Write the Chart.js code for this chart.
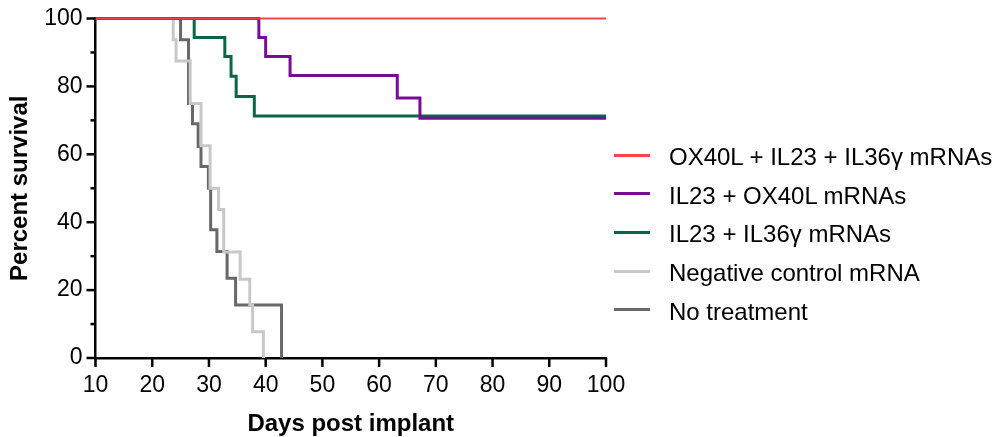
<!DOCTYPE html>
<html>
<head>
<meta charset="utf-8">
<script src="https://cdn.jsdelivr.net/npm/chart.js@4.4.0/dist/chart.umd.min.js"></script>
<style>
  html, body { margin: 0; padding: 0; background: #fff; }
  #wrap { position: relative; width: 996px; height: 437px; }
  #legend {
    position: absolute; left: 614px; top: 138px;
    font-family: "Liberation Sans", Arial, sans-serif; font-size: 24px; color: #000;
  }
  .row { display: flex; align-items: center; height: 38.6px; white-space: nowrap; }
  .swatch { width: 36px; height: 3px; margin-right: 19px; position: relative; top: -2px; }
</style>
</head>
<body>
<div id="wrap">
  <canvas id="km" width="996" height="437"></canvas>
  <div id="legend"></div>
</div>
<script>
// survival curves (day of step, % surviving after it)
const seriesNames = [
  'OX40L + IL23 + IL36\u03b3 mRNAs',
  'IL23 + OX40L mRNAs',
  'IL23 + IL36\u03b3 mRNAs',
  'Negative control mRNA',
  'No treatment'
];
const seriesColors = ['#f84646', '#760c96', '#0c6646', '#c8c8c8', '#686868'];

const tripleDays = [10, 100];
const tripleSurvival = [100, 100];

const il23Ox40lDays = [10, 38.8, 40.0, 44.3, 63.2, 67.2, 100];
const il23Ox40lSurvival = [100, 94.4, 88.8, 83.2, 76.6, 70.6, 70.6];

const il23Il36Days = [10, 27.4, 32.8, 33.9, 34.8, 38.0, 100];
const il23Il36Survival = [100, 94.4, 88.8, 83.0, 77.0, 71.3, 71.3];

const negCtrlDays = [10, 23.7, 24.2, 26.7, 28.6, 30.2, 31.7, 32.6, 35.5, 37.2, 37.7, 39.6];
const negCtrlSurvival = [100, 93.75, 87.5, 75, 62.5, 50, 43.75, 31.25, 23.2, 15.6, 7.7, 0];

const noTxDays = [10, 25.0, 26.4, 27.1, 28.1, 28.6, 29.9, 30.3, 31.4, 33.2, 34.7, 42.8];
const noTxSurvival = [100, 93.75, 75, 69, 62.3, 56.4, 50, 37.8, 31.4, 23.5, 15.6, 0];

const xTicks = [10, 20, 30, 40, 50, 60, 70, 80, 90, 100];
const yTicks = [0, 20, 40, 60, 80, 100];

const allDays = [tripleDays, il23Ox40lDays, il23Il36Days, negCtrlDays, noTxDays];
const allSurvival = [tripleSurvival, il23Ox40lSurvival, il23Il36Survival, negCtrlSurvival, noTxSurvival];

function toPoints(days, surv) {
  return days.map((d, i) => ({x: d, y: surv[i]}));
}

const datasets = seriesNames.map((name, i) => ({
  label: name,
  data: toPoints(allDays[i], allSurvival[i]),
  borderColor: seriesColors[i],
  borderWidth: i === 0 ? 2 : 3,
  stepped: true,
  pointRadius: 0,
  fill: false,
  borderJoinStyle: 'miter',
  clip: false
}));

// Prism-style outside ticks, minor ones shorter on the y axis
const tickMarks = {
  id: 'tickMarks',
  afterDraw(chart) {
    const {ctx, chartArea, scales: {x, y}} = chart;
    ctx.save();
    ctx.strokeStyle = '#000';
    ctx.lineWidth = 2.5;
    x.ticks.forEach(t => {
      const px = x.getPixelForValue(t.value);
      ctx.beginPath();
      ctx.moveTo(px, chartArea.bottom);
      ctx.lineTo(px, chartArea.bottom + 9);
      ctx.stroke();
    });
    y.ticks.forEach(t => {
      const py = y.getPixelForValue(t.value);
      const len = yTicks.includes(t.value) ? 9 : 5;
      ctx.beginPath();
      ctx.moveTo(chartArea.left, py);
      ctx.lineTo(chartArea.left - len, py);
      ctx.stroke();
    });
    ctx.restore();
  }
};

const font = "'Liberation Sans', Arial, sans-serif";

new Chart(document.getElementById('km'), {
  type: 'line',
  data: {datasets: datasets},
  options: {
    responsive: false,
    animation: false,
    devicePixelRatio: 1,
    layout: {padding: {left: 0, top: 18.5, right: 390, bottom: 0}},
    plugins: {legend: {display: false}, tooltip: {enabled: false}},
    scales: {
      x: {
        type: 'linear', min: 10, max: 100,
        afterFit: s => { s.height = 79; s.paddingLeft = 0; s.paddingRight = 0; },
        grid: {display: false, drawTicks: false},
        border: {display: true, color: '#000', width: 2.5},
        ticks: {
          stepSize: 10, autoSkip: false, padding: 14, color: '#000',
          font: {family: font, size: 23},
          callback: v => xTicks.includes(v) ? String(v) : ''
        },
        title: {
          display: true, text: 'Days post implant', color: '#000',
          font: {family: font, size: 24, weight: 'bold'},
          padding: {top: 0, bottom: -2}
        }
      },
      y: {
        type: 'linear', min: 0, max: 100,
        afterFit: s => { s.width = 95.5; s.paddingTop = 0; s.paddingBottom = 0; },
        grid: {display: false, drawTicks: false},
        border: {display: true, color: '#000', width: 2.5},
        ticks: {
          stepSize: 10, autoSkip: false, padding: 13, color: '#000',
          font: {family: font, size: 23},
          callback: v => yTicks.includes(v) ? String(v) : ''
        },
        title: {
          display: true, text: 'Percent survival', color: '#000',
          font: {family: font, size: 24, weight: 'bold'},
          padding: {top: 6, bottom: 0}
        }
      }
    }
  },
  plugins: [tickMarks]
});

// legend beside the plot
const legend = document.getElementById('legend');
seriesNames.forEach((name, i) => {
  const row = document.createElement('div');
  row.className = 'row';
  const sw = document.createElement('span');
  sw.className = 'swatch';
  sw.style.background = seriesColors[i];
  const txt = document.createElement('span');
  txt.textContent = name;
  row.appendChild(sw);
  row.appendChild(txt);
  legend.appendChild(row);
});
</script>
</body>
</html>
